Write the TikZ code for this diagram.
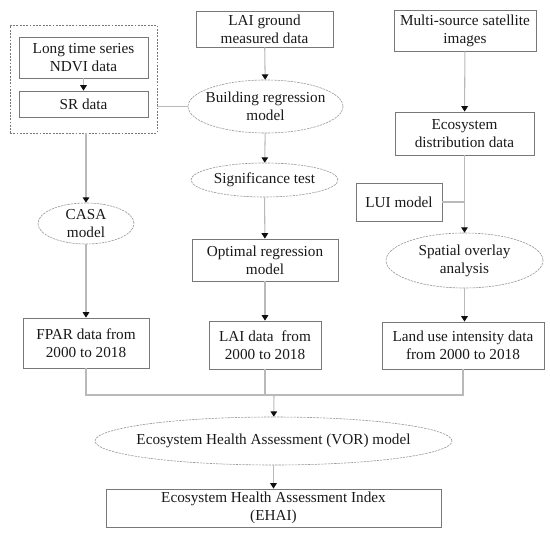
\documentclass[tikz,border=0pt]{standalone}
\usepackage{fontspec}
\setmainfont{Liberation Serif}
\usetikzlibrary{shapes.geometric, arrows.meta, positioning, calc}
\definecolor{boxgray}{RGB}{120,120,120}
\definecolor{ovalgray}{RGB}{150,150,150}
\definecolor{linkgray}{RGB}{185,185,185}
\definecolor{tipblack}{RGB}{15,15,15}
\definecolor{txtdark}{RGB}{25,25,25}
\tikzset{
  sz/.style 2 args={minimum width=#1*0.03cm, minimum height=#2*0.03cm},
  databox/.style={rectangle, draw=boxgray, fill=white, align=center,
    inner sep=1pt, line width=0.7pt, text=txtdark},
  dashbox/.style={rectangle, draw=boxgray, dash pattern=on 1.6pt off 1.2pt,
    line width=0.7pt},
  oval/.style={ellipse, draw=ovalgray, dash pattern=on 2pt off 0.8pt,
    line width=0.5pt, inner sep=0pt},
  ovaltext/.style={label={[align=center, text=txtdark]center:#1}},
  line/.style={draw=linkgray, line width=0.9pt},
  arrow/.style={line, -{Triangle[length=4.6pt, width=5.6pt, color=tipblack]}}
}
\begin{document}
\begin{tikzpicture}[x=0.03cm, y=-0.03cm, font=\fontsize{13}{15.5}\selectfont]
  \useasboundingbox (0,0) rectangle (550,536);

  % Left column: NDVI source
  \node[dashbox, sz={147}{108}] (src) at (83.5,79) {};
  \node[databox, sz={129}{41}] (ndvi) at (83.5,57.5) {Long time series\\NDVI data};
  \node[databox, sz={129}{26}] (sr) at (83.5,104) {SR data};
  \node[oval, sz={96}{41}, ovaltext={CASA\\model}] (casa) at (86,223.5) {};
  \node[databox, sz={126}{50}] (fpar) at (86,343) {FPAR data from\\2000 to 2018};

  % Middle column: LAI regression
  \node[databox, sz={137}{36}] (laig) at (264.5,29) {LAI ground\\measured data};
  \node[oval, sz={155}{53}, ovaltext={Building regression\\model}] (build) at (265.5,106.5) {};
  \node[oval, sz={147}{34}, ovaltext={Significance test}] (sig) at (264.5,180) {};
  \node[databox, sz={146}{42}] (optimal) at (265,260) {Optimal regression\\model};
  \node[databox, sz={112}{48}] (laidata) at (265,345) {LAI data\ \ from\\2000 to 2018};

  % Right column: land use
  \node[databox, sz={142}{41}] (multi) at (465,30.5) {Multi-source satellite\\images};
  \node[databox, sz={139}{43}] (ecodist) at (464.5,133.5) {Ecosystem\\distribution data};
  \node[databox, sz={86}{38}] (lui) at (399,202) {LUI model};
  \node[oval, sz={157}{55}, ovaltext={Spatial overlay\\analysis}] (spatial) at (464.5,260.5) {};
  \node[databox, sz={162}{47}] (landuse) at (463,345.5) {Land use intensity data\\from 2000 to 2018};

  % Assessment
  \coordinate (merge) at (274,395);
  \node[oval, sz={357}{48}, ovaltext={Ecosystem Health Assessment (VOR) model}] (vor) at (273.5,441) {};
  \node[databox, sz={335}{38}] (ehai) at (273.5,508) {Ecosystem Health Assessment Index\\(EHAI)};

  % Connectors
  \draw[arrow] (ndvi) -- (sr);
  \draw[line] (src.east |- build.west) -- (build.west);
  \draw[arrow] (src.south -| casa) -- (casa);
  \draw[arrow] (casa) -- (fpar);
  \draw[arrow] (laig) -- (build);
  \draw[arrow] (build) -- (sig);
  \draw[arrow] (sig) -- (optimal);
  \draw[arrow] (optimal) -- (laidata);
  \draw[arrow] (multi) -- (ecodist);
  \draw[arrow] (ecodist) -- (spatial);
  \draw[line] (lui) -- (lui -| ecodist);
  \draw[arrow] (spatial) -- (landuse.north -| spatial);
  \draw[line] (fpar) |- (merge) -| (landuse);
  \draw[line] (laidata) -- (laidata |- merge);
  \draw[arrow] (merge) -- (vor);
  \draw[arrow] (vor) -- (ehai);
\end{tikzpicture}
\end{document}
